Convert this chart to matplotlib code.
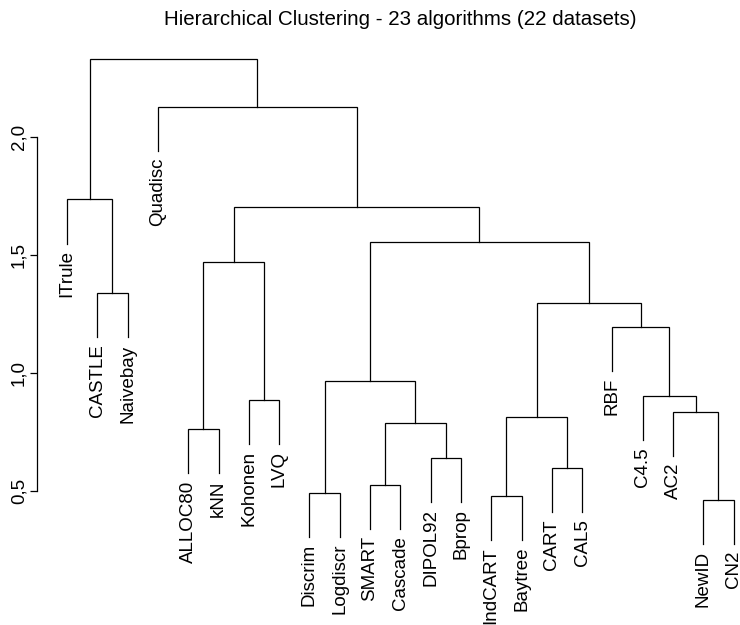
import matplotlib
matplotlib.use("Agg")
import matplotlib.pyplot as plt
import matplotlib.transforms as mtransforms

plt.rcParams['font.family'] = ['Liberation Sans', 'DejaVu Sans']

# etykiety liści w kolejności rysowania
leaves = ['ITrule', 'CASTLE', 'Naivebay', 'Quadisc', 'ALLOC80', 'kNN',
          'Kohonen', 'LVQ', 'Discrim', 'Logdiscr', 'SMART', 'Cascade',
          'DIPOL92', 'Bprop', 'IndCART', 'Baytree', 'CART', 'CAL5',
          'RBF', 'C4.5', 'AC2', 'NewID', 'CN2']

# macierz połączeń w stylu R: ujemne = liść, dodatnie = wcześniejszy krok
merge_a = [-22, -15, -9, -11, -17, -13, -5, 4, 2, -21, -7, -20,
           3, -19, 9, -2, 7, 13, 17, -1, -4, 20]
merge_b = [-23, -16, -10, -12, -18, -14, -6, 6, 5, 1, -8, 10,
           8, 12, 14, -3, 11, 15, 18, 16, 19, 21]
heights = [0.461, 0.478, 0.492, 0.523, 0.595, 0.637, 0.760, 0.786,
           0.811, 0.835, 0.884, 0.901, 0.965, 1.194, 1.294, 1.336,
           1.468, 1.553, 1.701, 1.734, 2.127, 2.328]

yticks = [0.5, 1.0, 1.5, 2.0]
ytick_labels = ['0,5', '1,0', '1,5', '2,0']
title = "Hierarchical Clustering - 23 algorithms (22 datasets)"

hang = 0.1 * (max(heights) - min(heights))

fig = plt.figure(figsize=(7.4, 6.25), dpi=100)
ax = fig.add_axes([37 / 740, 0, 1 - 37 / 740, 1])

node_x = {}
for i, (a, b, h) in enumerate(zip(merge_a, merge_b, heights), start=1):
    pts = []
    for c in (a, b):
        if c < 0:
            x = -c
            y = h - hang
            ax.annotate(leaves[x - 1], (x, y), xytext=(0, -5),
                        textcoords='offset points', rotation=90,
                        rotation_mode='anchor', ha='right', va='center',
                        fontsize=13.5, annotation_clip=False)
        else:
            x = node_x[c]
            y = heights[c - 1]
        pts.append((x, y))
    (x1, y1), (x2, y2) = pts
    ax.plot([x1, x1, x2, x2], [y1, h, h, y2], color='black', lw=0.9,
            solid_joinstyle='miter', clip_on=False)
    node_x[i] = (x1 + x2) / 2

ax.set_xlim(1 + (37 - 67) / 30.3, 1 + (740 - 67) / 30.3)
ax.set_ylim(1.0 - (625 - 372.7) / 236, 1.0 + 372.7 / 236)

for s in ['top', 'right', 'bottom']:
    ax.spines[s].set_visible(False)
ax.spines['left'].set_bounds(yticks[0], yticks[-1])
ax.spines['left'].set_linewidth(0.9)
ax.set_xticks([])
ax.set_yticks(yticks)
ax.set_yticklabels(ytick_labels, rotation=90, va='center', fontsize=13.5)
ax.tick_params(axis='y', length=5, width=0.9, pad=2)
ax.patch.set_visible(False)

trans = mtransforms.blended_transform_factory(ax.transData, fig.transFigure)
ax.text((1 + len(leaves)) / 2, 1 - 25 / 625, title, transform=trans,
        ha='center', va='baseline', fontsize=14.8)

fig.savefig('out.png', dpi=100)
